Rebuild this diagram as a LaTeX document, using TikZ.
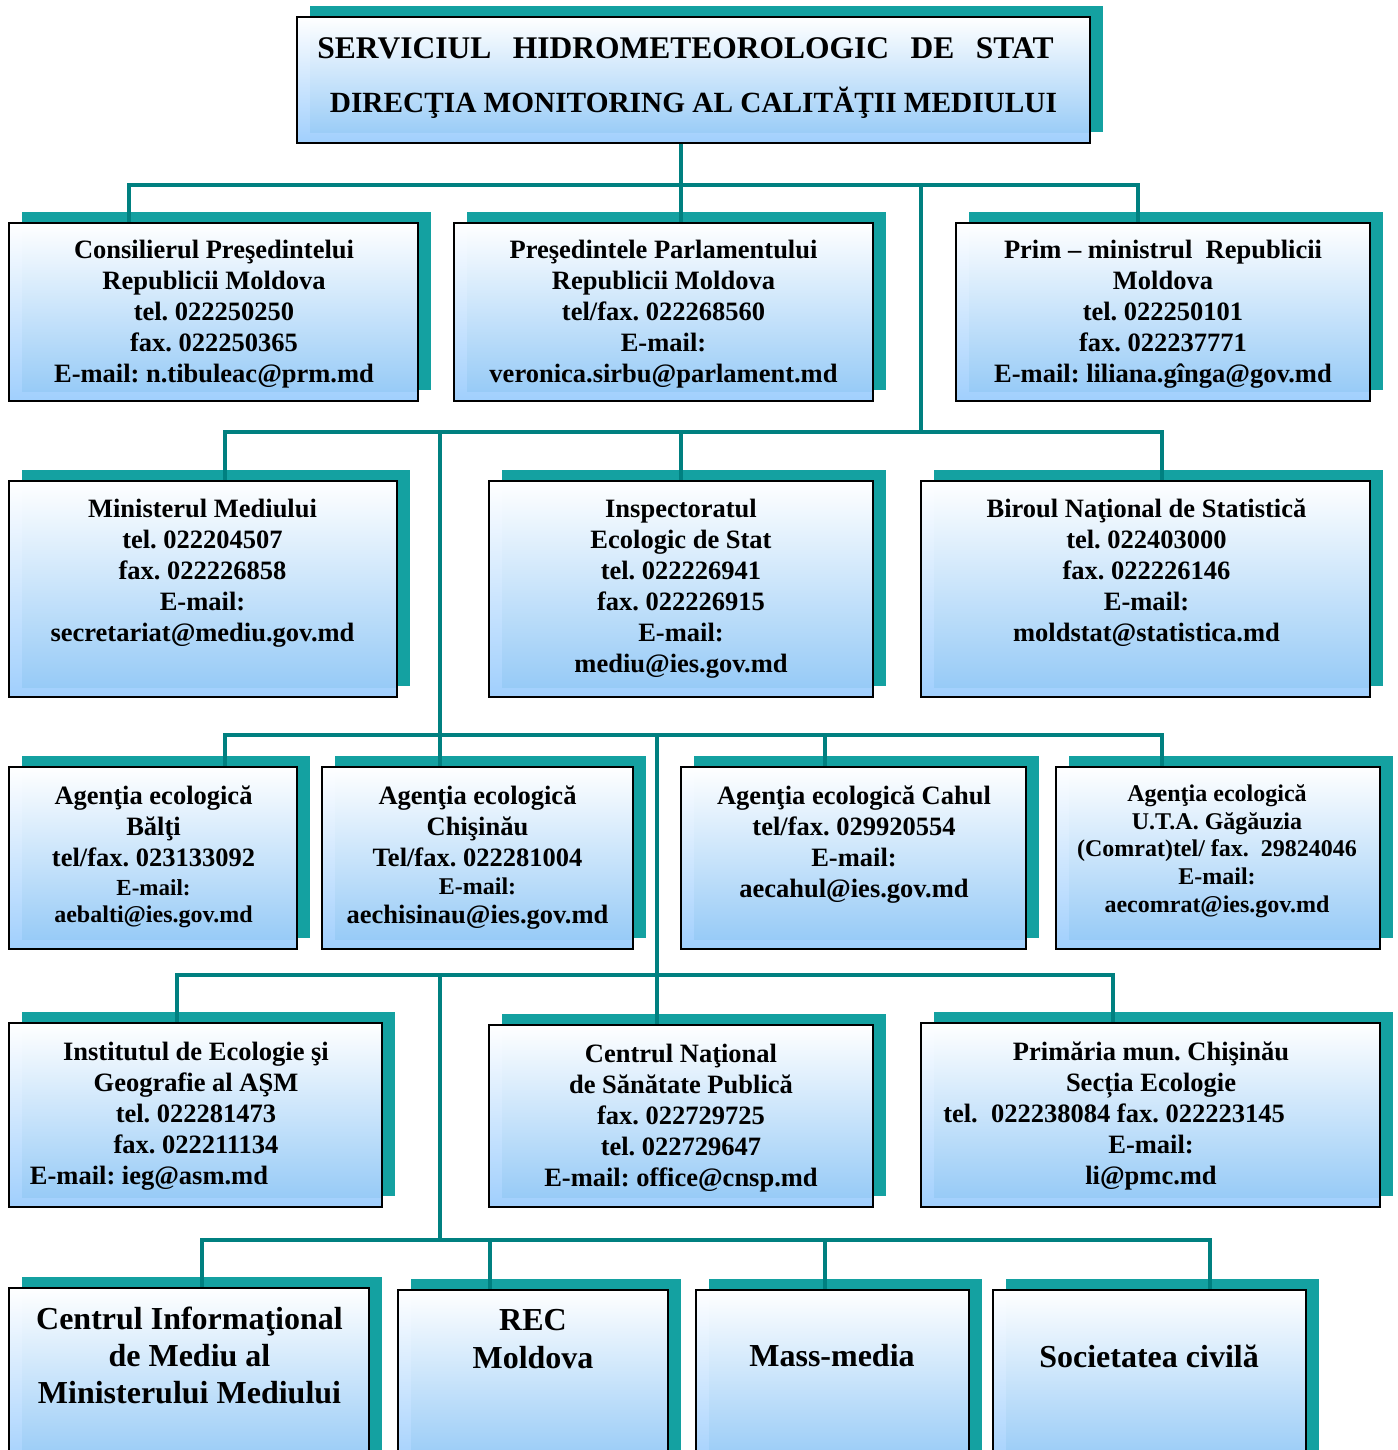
\documentclass[tikz,border=0pt]{standalone}
\usepackage{fontspec}
\setmainfont{Liberation Serif}
\usetikzlibrary{shadows}
\definecolor{shteal}{RGB}{20,161,161}
\definecolor{connc}{RGB}{0,128,128}
\definecolor{boxblue}{RGB}{160,207,253}
\definecolor{boxblue2}{RGB}{146,200,246}
\newcommand\fA{\fontsize{26.5}{31}\selectfont}
\newcommand\fS{\fontsize{23}{28}\selectfont}
\newcommand\fM{\fontsize{24}{28}\selectfont}
\begin{document}
\frenchspacing
\begin{tikzpicture}[x=1pt,y=-1pt,
  obox/.style={draw=black, line width=1.6pt, top color=white, bottom color=boxblue, inner sep=0pt,
    general shadow={fill=shteal, shadow xshift=13pt, shadow yshift=11pt},
    path picture={\shade[top color=white, bottom color=boxblue2]
      ([xshift=13pt,yshift=10pt]path picture bounding box.south west) rectangle (path picture bounding box.north east);}},
  txt/.style={align=center, inner sep=0pt, font=\bfseries\fA},
  big/.style={txt, font=\bfseries\fontsize{32}{37}\selectfont},
  conn/.style={draw=connc, line width=4.5pt, line join=miter}]
\useasboundingbox (0,0) rectangle (1397,1450);
\clip (0,0) rectangle (1397,1450);

% ---- boxes
\node[obox, minimum width=793pt, minimum height=126pt] (top) at (693.5,80) {};
\node[obox, minimum width=409pt, minimum height=178pt] (b1) at (213.5,312) {};
\node[obox, minimum width=419pt, minimum height=178pt] (b2) at (663.5,312) {};
\node[obox, minimum width=414pt, minimum height=178pt] (b3) at (1163,312) {};
\node[obox, minimum width=388pt, minimum height=216pt] (b4) at (203,589) {};
\node[obox, minimum width=384pt, minimum height=216pt] (b5) at (681,589) {};
\node[obox, minimum width=449pt, minimum height=216pt] (b6) at (1145.5,589) {};
\node[obox, minimum width=288pt, minimum height=182pt] (b7) at (153,858) {};
\node[obox, minimum width=311pt, minimum height=182pt] (b8) at (477.5,858) {};
\node[obox, minimum width=345pt, minimum height=182pt] (b9) at (853.5,858) {};
\node[obox, minimum width=324pt, minimum height=182pt] (b10) at (1218,858) {};
\node[obox, minimum width=373pt, minimum height=184pt] (b11) at (195.5,1115) {};
\node[obox, minimum width=384pt, minimum height=182pt] (b12) at (681,1116) {};
\node[obox, minimum width=459pt, minimum height=184pt] (b13) at (1150.5,1115) {};
\node[obox, minimum width=360pt, minimum height=182pt] (b14) at (189,1379) {};
\node[obox, minimum width=270pt, minimum height=180pt] (b15) at (533,1380) {};
\node[obox, minimum width=273pt, minimum height=180pt] (b16) at (832.5,1380) {};
\node[obox, minimum width=313pt, minimum height=180pt] (b17) at (1149.5,1380) {};

% ---- texts
\node[txt, font=\bfseries\fontsize{31.5}{54}\selectfont] (toptext) at (693.5,78)
  {SERVICIUL\hspace{21.5pt}HIDROMETEOROLOGIC\hspace{21.5pt}DE\hspace{21.5pt}STAT\rule{16pt}{0pt}\\{\fontsize{29.3}{54}\selectfont DIRECŢIA MONITORING AL CALITĂŢII MEDIULUI}};
\node[txt] (b1t) at (214,314) {Consilierul Preşedintelui\\Republicii Moldova\\tel. 022250250\\fax. 022250365\\E-mail: n.tibuleac@prm.md};
\node[txt] (b2t) at (663.5,314) {Preşedintele Parlamentului\\Republicii Moldova\\tel/fax. 022268560\\E-mail:\\veronica.sirbu@parlament.md};
\node[txt] (b3t) at (1163,314) {Prim – ministrul\ \ Republicii\\Moldova\\tel. 022250101\\fax. 022237771\\E-mail: liliana.gînga@gov.md};
\node[txt] (b4t) at (202.5,573) {Ministerul Mediului\\tel. 022204507\\fax. 022226858\\E-mail:\\secretariat@mediu.gov.md};
\node[txt] (b5t) at (681,588.5) {Inspectoratul\\Ecologic de Stat\\tel. 022226941\\fax. 022226915\\E-mail:\\mediu@ies.gov.md};
\node[txt] (b6t) at (1146.5,573) {Biroul Naţional de Statistică\\tel. 022403000\\fax. 022226146\\E-mail:\\moldstat@statistica.md};
\node[txt] (b7t) at (153.5,857) {Agenţia ecologică\\Bălţi\\tel/fax. 023133092\\[-2pt]\fS E-mail:\\[-4pt]\fM aebalti@ies.gov.md};
\node[txt] (b8t) at (477.5,857.5) {Agenţia ecologică\\Chişinău\\Tel/fax. 022281004\\[-3pt]\fM E-mail:\\[-2pt]aechisinau@ies.gov.md};
\node[txt] (b9t) at (854,844.5) {Agenţia ecologică Cahul\\tel/fax. 029920554\\E-mail:\\aecahul@ies.gov.md};
\node[txt, font=\bfseries\fontsize{24}{27.8}\selectfont] (b10t) at (1217,851) {Agenţia ecologică\\U.T.A. Găgăuzia\\(Comrat)tel/ fax.\ \ 29824046\\E-mail:\\aecomrat@ies.gov.md};
\node[txt] (b11t) at (196,1116) {Institutul de Ecologie şi\\Geografie al AŞM\\tel. 022281473\\fax. 022211134\\E-mail: ieg@asm.md\rule{94pt}{0pt}};
\node[txt] (b12t) at (681,1118) {Centrul Naţional\\de Sănătate Publică\\fax. 022729725\\tel. 022729647\\E-mail: office@cnsp.md};
\node[txt] (b13t) at (1151,1116) {Primăria mun. Chişinău\\Secția Ecologie\\tel.\ \ 022238084 fax. 022223145\rule{74pt}{0pt}\\E-mail:\\li@pmc.md};
\node[big] (b14t) at (189.5,1355) {Centrul Informaţional\\de Mediu al\\Ministerului Mediului};
\node[big, font=\bfseries\fontsize{32}{38}\selectfont] (b15t) at (533,1339) {REC\\Moldova};
\node[big] (b16t) at (832,1356) {Mass-media};
\node[big] (b17t) at (1149,1356) {Societatea civilă};

% ---- connectors
\coordinate (j0) at (681,185);
\coordinate (h1l) at (129,185);
\coordinate (h1r) at (1138,185);
\coordinate (v1) at (921,185);
\draw[conn] (top.south -| j0) -- (j0 |- b2.north);
\draw[conn] (h1l |- b1.north) -- (h1l) -- (h1r) -- (h1r |- b3.north);

\coordinate (h2l) at (225,432);
\coordinate (h2r) at (1162,432);
\coordinate (v1b) at (921,432);
\coordinate (j2) at (681,432);
\coordinate (j2b) at (440,432);
\draw[conn] (v1) -- (v1b);
\draw[conn] (h2l |- b4.north) -- (h2l) -- (h2r) -- (h2r |- b6.north);
\draw[conn] (j2) -- (b5.north);
\draw[conn] (j2b) -- (j2b |- b8.north);

\coordinate (h3l) at (225,735);
\coordinate (h3r) at (1162,735);
\coordinate (j3) at (825,735);
\coordinate (j3b) at (657,735);
\draw[conn] (h3l |- b7.north) -- (h3l) -- (h3r) -- (h3r |- b10.north);
\draw[conn] (j3) -- (j3 |- b9.north);
\draw[conn] (j3b) -- (j3b |- b12.north);

\coordinate (h4l) at (177,975);
\coordinate (h4r) at (1113,975);
\coordinate (j4) at (440,975);
\draw[conn] (h4l |- b11.north) -- (h4l) -- (h4r) -- (h4r |- b13.north);

\coordinate (h5l) at (202,1240);
\coordinate (h5r) at (1210,1240);
\coordinate (j5) at (440,1240);
\coordinate (j5a) at (490,1240);
\coordinate (j5b) at (825,1240);
\draw[conn] (j4) -- (j5);
\draw[conn] (h5l |- b14.north) -- (h5l) -- (h5r) -- (h5r |- b17.north);
\draw[conn] (j5a) -- (j5a |- b15.north);
\draw[conn] (j5b) -- (j5b |- b16.north);
\end{tikzpicture}
\end{document}
